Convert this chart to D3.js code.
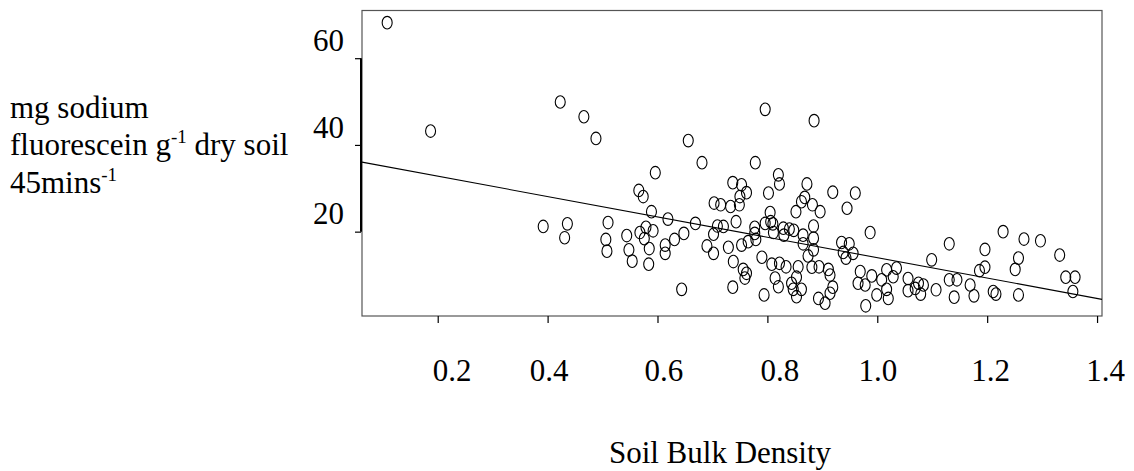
<!DOCTYPE html>
<html><head><meta charset="utf-8">
<script src="https://cdn.jsdelivr.net/npm/d3@7/dist/d3.min.js"></script>
<style>
html,body{margin:0;padding:0;background:#fff;}
text{font-family:"Liberation Serif","Times New Roman",serif;fill:#000;}
</style></head>
<body><svg id="chart" width="1134" height="471"></svg>
<script>
// ---- data ----
const bulkDensity = [
0.108,0.187,0.423,0.466,0.488,0.596,0.656,0.681,0.737,0.753,0.778,0.796,0.885,0.820,0.872,
0.762,0.566,0.574,0.703,0.715,0.733,0.749,0.750,0.589,0.619,0.669,0.743,0.709,0.720,0.777,
0.392,0.436,0.431,0.510,0.506,0.508,0.544,0.548,0.554,0.568,0.579,0.592,0.576,0.585,0.584,
0.614,0.614,0.631,0.648,0.644,0.702,0.690,0.702,0.729,0.738,0.753,0.765,0.777,0.756,0.762,
0.759,0.737,0.794,0.822,0.919,0.960,0.945,0.802,0.862,0.868,0.882,0.852,0.896,0.805,0.806,
0.810,0.796,0.811,0.829,0.840,0.848,0.830,0.884,0.865,0.884,0.865,0.884,0.874,0.987,0.779,
0.935,0.949,0.938,0.943,0.956,0.790,0.808,0.822,0.834,0.856,0.853,0.881,0.894,0.911,0.914,
0.814,0.820,0.844,0.847,0.853,0.862,0.893,0.905,0.914,0.919,0.969,0.965,0.978,0.990,0.979,
0.999,1.008,1.017,1.020,1.017,1.029,1.035,1.056,1.056,1.075,1.079,1.084,1.069,1.107,1.099,
1.131,1.131,1.145,1.140,1.169,1.176,1.186,1.196,1.196,1.211,1.216,1.229,1.267,1.297,1.257,
1.251,1.257,1.332,1.343,1.360,1.356
];
const fluorescein = [
68.2,43.2,49.9,46.5,41.5,33.6,41.0,35.9,31.3,30.8,35.9,48.2,45.6,33.1,31.0,
29.0,29.5,28.1,26.6,26.2,25.8,26.2,28.1,24.6,22.9,21.9,22.3,21.3,21.2,21.0,
21.2,21.8,18.6,22.1,18.2,15.5,19.1,15.8,13.2,19.8,21.0,20.2,18.4,16.1,12.5,
16.9,15.0,18.2,19.6,6.7,19.4,16.7,15.0,16.4,13.1,16.9,17.7,19.6,11.3,10.4,
9.3,7.2,5.4,31.0,29.1,28.9,25.4,28.9,26.9,27.9,26.2,24.6,24.6,24.4,22.3,
21.8,21.9,19.8,20.8,20.6,20.3,19.2,21.3,19.2,18.5,17.2,15.8,14.4,19.8,18.2,
17.5,17.2,15.2,13.9,15.0,14.1,12.5,12.7,11.9,11.9,9.5,11.8,11.9,11.3,10.0,
9.3,7.3,8.1,6.7,5.0,6.7,4.6,3.5,5.8,7.2,10.8,8.1,7.7,9.8,2.9,
5.4,8.9,11.2,4.6,6.7,9.6,11.6,9.2,6.4,8.1,5.6,7.7,6.9,6.6,13.5,
17.2,8.9,8.9,4.9,7.7,5.2,11.0,11.8,15.9,6.2,5.6,20.0,18.3,17.9,13.9,
11.3,5.4,14.6,9.5,9.5,6.2
];
const xTicks = [0.2, 0.4, 0.6, 0.8, 1.0, 1.2, 1.4];
const yTicks = [20, 40, 60];
const fitIntercept = 37.5;
const fitSlope = -23.5;
const xTitle = "Soil Bulk Density";

// ---- layout ----
const W = 1134, H = 471;
const L = 362, R = 1102, T = 10.5, B = 316;
const xLabelNudge = [14, 1, 6, 12, 0, 3, 8];

const svg = d3.select("#chart");
const x = d3.scaleLinear().domain([0.0622, 1.409]).range([L, R]);
const y = d3.scaleLinear().domain([0.55, 71.0]).range([B, T]);

// frame
svg.append("rect").attr("x", L).attr("y", T).attr("width", R - L).attr("height", B - T)
  .attr("fill", "none").attr("stroke", "#555").attr("stroke-width", 1.2);

// regression line
const xd = x.domain();
svg.append("line")
  .attr("x1", x(xd[0])).attr("y1", y(fitIntercept + fitSlope * xd[0]))
  .attr("x2", x(xd[1])).attr("y2", y(fitIntercept + fitSlope * xd[1]))
  .attr("stroke", "#000").attr("stroke-width", 1.1);

// points
svg.append("g").selectAll("ellipse").data(bulkDensity.map((d, i) => [d, fluorescein[i]]))
  .join("ellipse")
  .attr("cx", d => x(d[0])).attr("cy", d => y(d[1]))
  .attr("rx", 5).attr("ry", 6.3)
  .attr("fill", "none").attr("stroke", "#000").attr("stroke-width", 1.1);

// x axis
const gx = svg.append("g").attr("transform", `translate(0,${B})`)
  .call(d3.axisBottom(x).tickValues(xTicks).tickSize(7).tickPadding(36)
    .tickFormat(d3.format(".1f")));
gx.select(".domain").remove();
gx.selectAll(".tick line").attr("stroke", "#000").attr("stroke-width", 1.2);
gx.selectAll(".tick text").attr("font-size", 31).attr("font-family", "Liberation Serif")
  .attr("dx", (d, i) => xLabelNudge[i]);

// y axis
const gy = svg.append("g").attr("transform", `translate(${L - 1},0)`)
  .call(d3.axisLeft(y).tickValues(yTicks).tickSize(6).tickPadding(16));
gy.select(".domain").remove();
gy.append("line").attr("x1", 0).attr("x2", 0)
  .attr("y1", y(yTicks[0])).attr("y2", y(yTicks[yTicks.length - 1]))
  .attr("stroke", "#000").attr("stroke-width", 2);
gy.selectAll(".tick line").attr("stroke", "#000").attr("stroke-width", 1.2);
gy.selectAll(".tick text").attr("font-size", 31).attr("font-family", "Liberation Serif")
  .attr("dy", "-0.25em").attr("x", -17);

// x title
svg.append("text").attr("x", 720).attr("y", 463).attr("text-anchor", "middle")
  .attr("font-size", 31).text(xTitle);

// y title (three lines with superscripts)
const yt = svg.append("g").attr("font-size", 31);
yt.append("text").attr("x", 10).attr("y", 117.5).text("mg sodium");
const l2 = yt.append("text").attr("x", 10).attr("y", 155);
l2.append("tspan").text("fluorescein g");
l2.append("tspan").attr("font-size", 19).attr("dy", -12).text("-1");
l2.append("tspan").attr("dy", 12).text(" dry soil");
const l3 = yt.append("text").attr("x", 10).attr("y", 192.5);
l3.append("tspan").text("45mins");
l3.append("tspan").attr("font-size", 19).attr("dy", -12).text("-1");
</script></body></html>
